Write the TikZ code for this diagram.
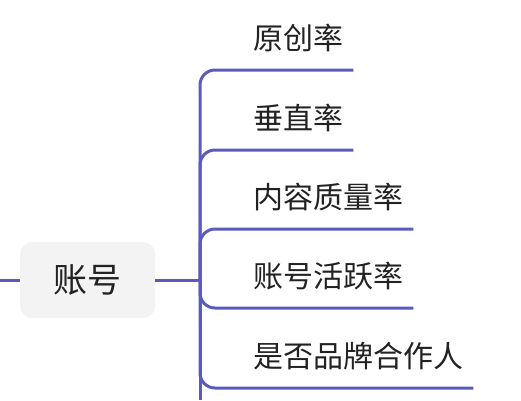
\documentclass[tikz,border=0pt]{standalone}
\usepackage{fontspec}
\setmainfont{Noto Sans CJK SC}
\usetikzlibrary{calc}
\definecolor{branchblue}{HTML}{5B5BBD}
\definecolor{rootgray}{HTML}{F3F3F3}
\definecolor{inkgray}{HTML}{222222}
\tikzstyle{root} = [rectangle, rounded corners=12pt, minimum width=135pt, minimum height=76pt, fill=rootgray, text=inkgray, font=\fontsize{34}{40}\selectfont]
\tikzstyle{leaf} = [anchor=south west, inner xsep=10pt, inner ysep=18pt, text height=0.8em, text depth=0.2em, text=inkgray, font=\fontsize{30}{36}\selectfont]
\tikzstyle{branch} = [line width=3pt, draw=branchblue, rounded corners=15pt]

\begin{document}
\begin{tikzpicture}[x=1pt, y=-1pt]
        \useasboundingbox (0,0) rectangle (521,400);

        \node (acct) [root] at (87.5,280) {账号};
        \coordinate (parent) at (0,280);
        \coordinate (hub) at (200,280);
        \coordinate (tail) at (200,400);
        \node (orig) [leaf] at (243,70) {原创率};
        \node (vert) [leaf] at (243,150) {垂直率};
        \node (quality) [leaf] at (243,229) {内容质量率};
        \node (active) [leaf] at (243,308) {账号活跃率};
        \node (brand) [leaf] at (243,388) {是否品牌合作人};

        % Lines
        \draw [branch] (parent) -- (acct);
        \draw [branch] (acct) -- (hub);
        \draw [branch] (hub) |- (orig.south east);
        \draw [branch] (hub) |- (vert.south east);
        \draw [branch] (hub) |- (quality.south east);
        \draw [branch] (hub) |- (active.south east);
        \draw [branch] (hub) |- (brand.south east);
        \draw [branch] (hub) -- (tail);

\end{tikzpicture}
\end{document}
